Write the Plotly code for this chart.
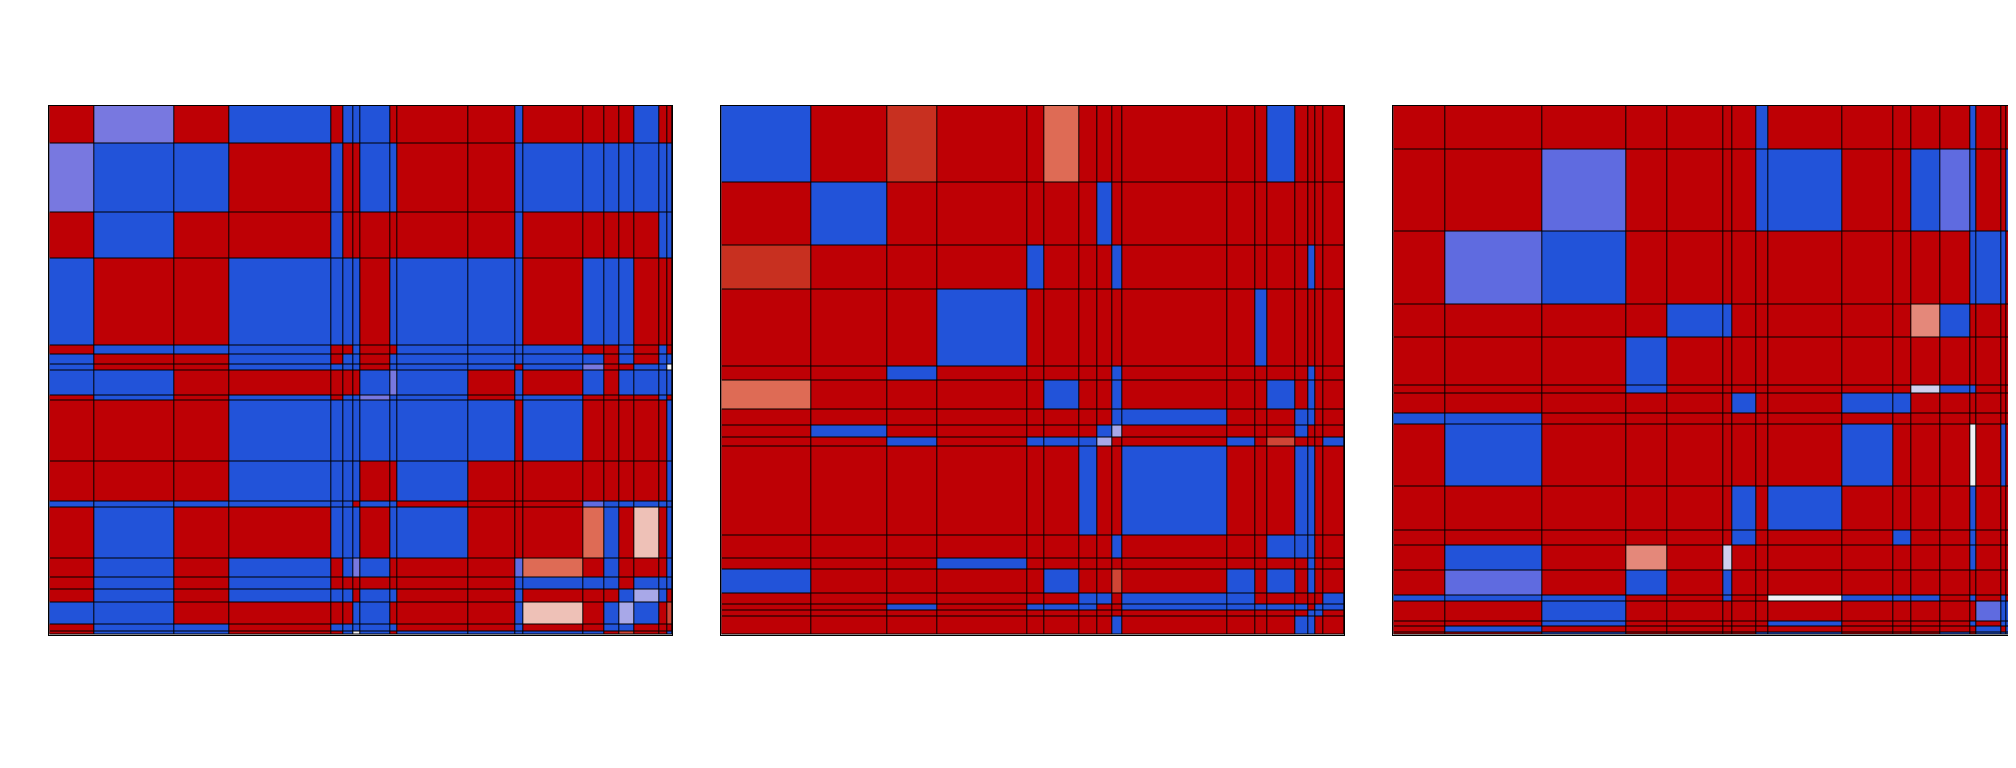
import numpy as np
import plotly.graph_objects as go

# ---------------- data ----------------
# Panel 1: column widths, row heights (relative sizes), cell values (-1 blue ... +1 red)
p1_col_widths = [45, 80, 55, 102, 12, 10, 7, 30.4, 6.6, 71, 47, 8, 60, 21, 15, 15, 25, 8, 5]
p1_row_heights = [108, 196, 134, 248, 26, 26, 17, 74, 13, 175, 114, 17, 146, 54, 34, 37, 63, 20, 8]
p1_values = [
    [1, -0.7, 1, -1, 1, -1, -1, -1, 1, 1, 1, -1, 1, 1, 1, 1, -1, 1, 1],
    [-0.7, -1, -1, 1, -1, 1, 1, -1, -1, 1, 1, -1, -1, -1, -1, -1, -1, -1, -1],
    [1, -1, 1, 1, -1, 1, 1, 1, 1, 1, 1, -1, 1, 1, 1, 1, 1, -1, -1],
    [-1, 1, 1, -1, -1, -1, -1, 1, -1, -1, -1, -1, 1, -1, -1, -1, 1, 1, 1],
    [1, -1, -1, -1, 1, 1, -1, 1, 1, -1, -1, -1, -1, 1, 1, -1, 1, -1, 1],
    [-1, 1, 1, -1, 1, -1, -1, 1, -1, -1, -1, -1, -1, -1, 1, -1, 1, -1, -1],
    [-1, 1, 1, -1, -1, -1, -1, 1, -1, -1, -1, 1, -1, -0.7, 1, 1, -1, -1, 0],
    [-1, -1, 1, 1, 1, 1, 1, -1, -0.7, -1, 1, -1, 1, -1, 1, -1, -1, -1, -1],
    [1, -1, 1, -1, 1, -1, -1, -0.7, -1, -1, 1, -1, -1, 1, 1, 1, 1, -1, 1],
    [1, 1, 1, -1, -1, -1, -1, -1, -1, -1, -1, 1, -1, 1, 1, 1, 1, 1, -1],
    [1, 1, 1, -1, -1, -1, -1, 1, 1, -1, 1, 1, 1, 1, 1, 1, 1, 1, -1],
    [-1, -1, -1, -1, -1, -1, 1, -1, -1, 1, 1, 1, 1, -0.8, -1, -1, -1, -1, -1],
    [1, -1, 1, 1, -1, -1, -1, 1, -1, -1, 1, 1, 1, 0.65, -1, 1, 0.3, 1, -1],
    [1, -1, 1, -1, 1, -1, -0.7, -1, 1, 1, 1, -0.8, 0.65, 1, -1, 1, 1, 1, -1],
    [1, -1, 1, -1, 1, 1, 1, 1, 1, 1, 1, -1, -1, -1, -1, 1, -1, -1, -1],
    [1, -1, 1, -1, -1, -1, 1, -1, -1, 1, 1, -1, 1, 1, 1, -1, -0.5, -1, 1],
    [-1, -1, 1, 1, 1, 1, -1, -1, 1, 1, 1, -1, 0.3, 1, -1, -0.5, -1, 1, 0.8],
    [1, -1, -1, 1, -1, -1, -1, -1, -1, 1, 1, -1, 1, 1, -1, -1, 1, 1, 1],
    [1, -1, -1, 1, 1, -1, 0, -1, 1, -1, -1, -1, -1, -1, 1, 0.8, 1, 1, -1],
]

# Panel 2
p2_col_widths = [90, 76, 50, 90, 17, 35, 18, 15, 10, 105, 28, 12, 28, 13, 7, 8, 20.7]
p2_row_heights = [219, 182, 123, 220, 40, 85, 43, 37, 23, 256, 66, 31, 69, 31, 17, 17, 51]
p2_values = [
    [-1, 1, 0.9, 1, 1, 0.65, 1, 1, 1, 1, 1, 1, -1, 1, 1, 1, 1],
    [1, -1, 1, 1, 1, 1, 1, -1, 1, 1, 1, 1, 1, 1, 1, 1, 1],
    [0.9, 1, 1, 1, -1, 1, 1, 1, -1, 1, 1, 1, 1, 1, -1, 1, 1],
    [1, 1, 1, -1, 1, 1, 1, 1, 1, 1, 1, -1, 1, 1, 1, 1, 1],
    [1, 1, -1, 1, 1, 1, 1, 1, -1, 1, 1, 1, 1, 1, -1, 1, 1],
    [0.65, 1, 1, 1, 1, -1, 1, 1, -1, 1, 1, 1, -1, 1, -1, 1, 1],
    [1, 1, 1, 1, 1, 1, 1, 1, -1, -1, 1, 1, 1, -1, -1, 1, 1],
    [1, -1, 1, 1, 1, 1, 1, -1, -0.5, 1, 1, 1, 1, -1, 1, 1, 1],
    [1, 1, -1, 1, -1, -1, -1, -0.5, 1, 1, -1, 1, 0.8, 1, 1, 1, -1],
    [1, 1, 1, 1, 1, 1, -1, 1, 1, -1, 1, 1, 1, -1, -1, 1, 1],
    [1, 1, 1, 1, 1, 1, 1, 1, -1, 1, 1, 1, -1, -1, -1, 1, 1],
    [1, 1, 1, -1, 1, 1, 1, 1, 1, 1, 1, 1, 1, 1, -1, 1, 1],
    [-1, 1, 1, 1, 1, -1, 1, 1, 0.8, 1, -1, 1, -1, 1, -1, 1, 1],
    [1, 1, 1, 1, 1, 1, -1, -1, 1, -1, -1, 1, 1, 1, 1, 1, -1],
    [1, 1, -1, 1, -1, -1, -1, 1, 1, -1, -1, -1, -1, -1, 1, -1, -1],
    [1, 1, 1, 1, 1, 1, 1, 1, 1, 1, 1, 1, 1, 1, -1, -1, 1],
    [1, 1, 1, 1, 1, 1, 1, 1, -1, 1, 1, 1, 1, -1, -1, 1, 1],
]

# Panel 3
p3_col_widths = [52, 97, 84, 41, 56, 9, 24, 12, 74, 51, 18, 29, 30, 6, 25, 5, 7, 3]
p3_row_heights = [125, 236, 206, 96, 137, 22, 58, 31, 177, 126, 43, 71, 71, 16, 57, 16, 16, 6]
p3_values = [
    [1, 1, 1, 1, 1, 1, 1, -1, 1, 1, 1, 1, 1, -1, 1, 1, 1, 1],
    [1, 1, -0.8, 1, 1, 1, 1, -1, -1, 1, 1, -1, -0.8, -1, 1, 1, -1, 1],
    [1, -0.8, -1, 1, 1, 1, 1, 1, 1, 1, 1, 1, 1, -1, -1, -1, 1, -1],
    [1, 1, 1, 1, -1, -1, 1, 1, 1, 1, 1, 0.55, -1, 1, 1, 1, 1, 1],
    [1, 1, 1, -1, 1, 1, 1, 1, 1, 1, 1, 1, 1, 1, 1, 1, 1, 1],
    [1, 1, 1, -1, 1, 1, 1, 1, 1, 1, 1, -0.3, -1, -1, 1, 1, 1, 1],
    [1, 1, 1, 1, 1, 1, -1, 1, 1, -1, -1, 1, 1, 1, 1, 1, 1, 1],
    [-1, -1, 1, 1, 1, 1, 1, 1, 1, 1, 1, 1, 1, 1, 1, 1, 1, -1],
    [1, -1, 1, 1, 1, 1, 1, 1, 1, -1, 1, 1, 1, 0, 1, -1, 1, -1],
    [1, 1, 1, 1, 1, 1, -1, 1, -1, 1, 1, 1, 1, -1, 1, 1, 1, 1],
    [1, 1, 1, 1, 1, 1, -1, 1, 1, 1, -1, 1, 1, -1, 1, 1, 1, 1],
    [1, -1, 1, 0.55, 1, -0.3, 1, 1, 1, 1, 1, 1, 1, -1, 1, 1, 1, 1],
    [1, -0.8, 1, -1, 1, -1, 1, 1, 1, 1, 1, 1, 1, 1, 1, 1, 1, 1],
    [-1, -1, -1, 1, 1, -1, 1, 1, 0, -1, -1, -1, 1, -1, 1, -1, 1, -1],
    [1, 1, -1, 1, 1, 1, 1, 1, 1, 1, 1, 1, 1, 1, -0.8, -1, -1, 1],
    [1, 1, -1, 1, 1, 1, 1, 1, -1, 1, 1, 1, 1, -1, 1, -1, -1, -1],
    [1, -1, 1, 1, 1, 1, 1, 1, 1, 1, 1, 1, 1, 1, -1, 1, -1, 1],
    [1, 1, -1, 1, 1, 1, 1, -1, -1, 1, 1, 1, -1, 1, -1, -1, -1, 1],
]

# ---------------- style ----------------
colorscale = [
    [0.0, "#2253D9"],
    [0.1, "#5F6BE0"],
    [0.15, "#7878E0"],
    [0.25, "#A8A8E8"],
    [0.35, "#D0D0EE"],
    [0.5, "#F0F0F5"],
    [0.65, "#EEC1B7"],
    [0.775, "#E4887A"],
    [0.825, "#DE6B55"],
    [0.9, "#D04535"],
    [0.95, "#C83020"],
    [1.0, "#BE0005"],
]

W, H = 2016, 720
OFF = 8.0  # page body margin offset
x_domains = [
    [(49.3 - OFF) / W, (672.3 - OFF) / W],
    [(721.3 - OFF) / W, (1344.0 - OFF) / W],
    [(1393.3 - OFF) / W, (2016.3 - OFF) / W],
]
y_domain = [1 - (634.5 - OFF) / H, 1 - (105.5 - OFF) / H]


def edges(sizes):
    return np.concatenate([[0.0], np.cumsum(sizes)])


panels = [
    (p1_col_widths, p1_row_heights, p1_values),
    (p2_col_widths, p2_row_heights, p2_values),
    (p3_col_widths, p3_row_heights, p3_values),
]

fig = go.Figure()
layout = dict(
    width=W,
    height=H,
    margin=dict(l=0, r=0, t=0, b=0),
    paper_bgcolor="white",
    plot_bgcolor="black",
    showlegend=False,
)

for i, (cw, rh, vals) in enumerate(panels):
    xe = edges(cw)
    ye = edges(rh)
    suffix = "" if i == 0 else str(i + 1)
    fig.add_trace(
        go.Heatmap(
            x=xe,
            y=ye,
            z=vals,
            zmin=-1,
            zmax=1,
            colorscale=colorscale,
            showscale=False,
            xgap=1,
            ygap=1,
            xaxis="x" + suffix,
            yaxis="y" + suffix,
            hoverinfo="skip",
        )
    )
    layout["xaxis" + suffix] = dict(
        domain=x_domains[i],
        range=[0, xe[-1]],
        anchor="y" + suffix,
        showticklabels=False,
        ticks="",
        showgrid=False,
        zeroline=False,
        showline=True,
        linecolor="black",
        linewidth=1,
        mirror=True,
        fixedrange=True,
    )
    layout["yaxis" + suffix] = dict(
        domain=y_domain,
        range=[ye[-1], 0],
        anchor="x" + suffix,
        showticklabels=False,
        ticks="",
        showgrid=False,
        zeroline=False,
        showline=True,
        linecolor="black",
        linewidth=1,
        mirror=(i < 2),
        fixedrange=True,
    )

fig.update_layout(**layout)
fig.write_html("out.html")
